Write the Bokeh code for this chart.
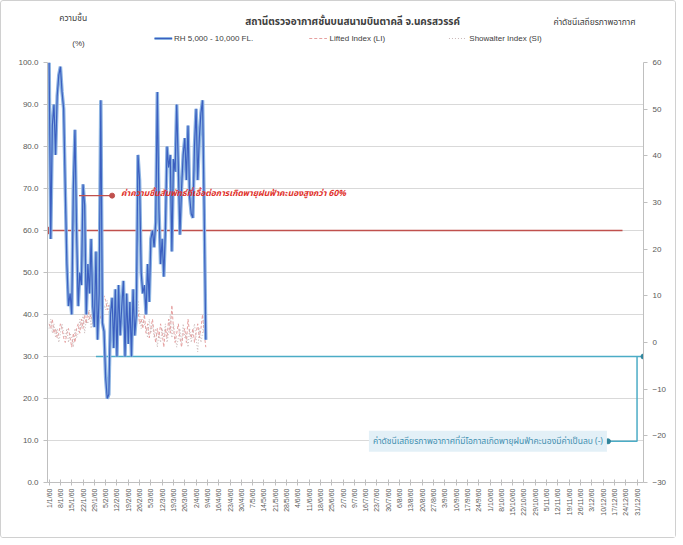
import math
from bokeh.plotting import figure
from bokeh.layouts import column
from bokeh.models import Range1d, LinearAxis, FixedTicker, Label, NumeralTickFormatter
from bokeh.embed import file_html
from bokeh.resources import INLINE

# ---- data ----
days = list(range(98))
rh = [100, 58, 85, 90, 78, 92, 97, 99, 93, 89,
      70, 52, 42, 45, 40, 70, 84, 60, 42, 50,
      47, 71, 66, 40, 52, 45, 58, 42, 37, 55,
      34, 45, 91, 38, 36, 25, 20, 21, 40, 44,
      32, 46, 30, 47, 35, 42, 48, 30, 45, 33,
      43, 30, 46, 35, 40, 78, 72, 50, 45, 47,
      40, 52, 43, 58, 60, 56, 62, 93, 65, 52,
      58, 49, 60, 80, 75, 78, 55, 77, 74, 90,
      75, 59, 70, 78, 82, 72, 85, 68, 64, 63,
      80, 89, 72, 82, 88, 91, 65, 34]
li = [4, 3, 5, 2, 3, 1, 2, 4, 3, 1,
      0, 2, 3, 1, -1, 2, 0, 3, 4, 2,
      5, 3, 6, 4, 7, 5, 6, 4, 8, 6,
      9, 7, 5, 8, 10, 9, 7, 8, 6, 9,
      7, 5, 6, 8, 4, 6, 7, 5, 3, 6,
      4, 7, 5, 8, 6, 7, 4, 5, 3, 6,
      2, 4, 1, 3, 5, 2, 0, 3, 1, 4,
      2, -1, 3, 1, 5, 2, 8, 3, 0, 2,
      4, 1, -1, 2, 3, 0, 5, 2, 1, 3,
      0, 2, 4, 1, 3, 6, 2, -1]
si = [3, 5, 2, 4, 1, 3, 0, 2, 4, 2,
      1, 3, 0, 2, 1, -1, 3, 1, 2, 5,
      3, 6, 2, 5, 4, 7, 3, 6, 5, 8,
      6, 9, 7, 6, 8, 7, 9, 6, 8, 7,
      5, 7, 4, 6, 5, 8, 4, 6, 5, 4,
      6, 3, 7, 4, 5, 9, 6, 3, 5, 4,
      3, 1, 5, 2, 4, 1, 3, -1, 2, 0,
      3, 1, 4, 0, 2, 6, 1, 4, 2, -1,
      1, 3, 0, 4, 1, 2, -1, 3, 0, 2,
      4, 1, -2, 3, 0, 2, 5, 1]

week_ticks = list(range(0, 365, 7))
week_labels = ["1/1/60", "8/1/60", "15/1/60", "22/1/60", "29/1/60",
               "5/2/60", "12/2/60", "19/2/60", "26/2/60",
               "5/3/60", "12/3/60", "19/3/60", "26/3/60",
               "2/4/60", "9/4/60", "16/4/60", "23/4/60", "30/4/60",
               "7/5/60", "14/5/60", "21/5/60", "28/5/60",
               "4/6/60", "11/6/60", "18/6/60", "25/6/60",
               "2/7/60", "9/7/60", "16/7/60", "23/7/60", "30/7/60",
               "6/8/60", "13/8/60", "20/8/60", "27/8/60",
               "3/9/60", "10/9/60", "17/9/60", "24/9/60",
               "1/10/60", "8/10/60", "15/10/60", "22/10/60", "29/10/60",
               "5/11/60", "12/11/60", "19/11/60", "26/11/60",
               "3/12/60", "10/12/60", "17/12/60", "24/12/60", "31/12/60"]

rh_threshold = 60
idx_threshold_left = 30

title_text = "สถานีตรวจอากาศชั้นบนสนามบินตาคลี จ.นครสวรรค์"
left_title = "ความชื้น"
left_unit = "(%)"
right_title = "ค่าดัชนีเสถียรภาพอากาศ"
red_note = "ค่าความชื้นสัมพัทธ์ที่เอื้อต่อการเกิดพายุฝนฟ้าคะนองสูงกว่า 60%"
cyan_note = "ค่าดัชนีเสถียรภาพอากาศที่มีโอกาสเกิดพายุฝนฟ้าคะนองมีค่าเป็นลบ (-)"
legend_labels = ["RH 5,000 - 10,000 FL.", "Lifted Index (LI)", "Showalter Index (SI)"]

FONT = "Liberation Sans"
THAI = "Noto Sans Thai"
BLUE_L = "#8DB4E2"
BLUE_D = "#3B5FC0"
LI_C = "#E6A0A0"
SI_C = "#C9B8B8"
RED = "#C0504D"
CY = "#4BACC6"

W = 674
HH = 54

# ---------- header ----------
h = figure(width=W, height=HH, x_range=Range1d(0, W), y_range=Range1d(HH, 0),
           min_border=0, output_backend="svg", toolbar_location=None)
h.axis.visible = False
h.grid.visible = False
h.outline_line_color = None

h.add_layout(Label(x=345, y=20, text=title_text, text_font=THAI, text_font_size="10px",
                   text_font_style="bold", text_color="#404040",
                   text_align="center", text_baseline="middle"))
h.add_layout(Label(x=29, y=17, text=left_title, text_font=THAI, text_font_size="8.5px",
                   text_color="#404040", text_align="center", text_baseline="middle"))
h.add_layout(Label(x=35, y=42, text=left_unit, text_font=FONT, text_font_size="8px",
                   text_color="#404040", text_align="center", text_baseline="middle"))
h.add_layout(Label(x=665, y=21, text=right_title, text_font=THAI, text_font_size="8.5px",
                   text_color="#404040", text_align="right", text_baseline="middle"))

ly = 37
h.line([121, 141], [ly, ly], line_color=BLUE_L, line_width=3)
h.line([121, 141], [ly, ly], line_color=BLUE_D, line_width=1.2)
h.add_layout(Label(x=143, y=ly, text=legend_labels[0], text_font=FONT, text_font_size="8px",
                   text_color="#404040", text_baseline="middle"))
h.line([296, 316], [ly, ly], line_color=LI_C, line_width=1, line_dash="3 2")
h.add_layout(Label(x=319, y=ly, text=legend_labels[1], text_font=FONT, text_font_size="8px",
                   text_color="#404040", text_baseline="middle"))
h.line([454, 474], [ly, ly], line_color=SI_C, line_width=1, line_dash="1 2")
h.add_layout(Label(x=477, y=ly, text=legend_labels[2], text_font=FONT, text_font_size="8px",
                   text_color="#404040", text_baseline="middle"))

# ---------- main chart ----------
p = figure(frame_width=596, frame_height=420,
           min_border_left=46, min_border_right=32, min_border_top=7, min_border_bottom=55,
           x_range=Range1d(-1, 368), y_range=Range1d(0, 100),
           output_backend="svg", toolbar_location=None)
p.extra_y_ranges = {"idx": Range1d(-30, 60)}
p.outline_line_color = None
p.xgrid.visible = False
p.ygrid.grid_line_color = "#D9D9D9"
p.ygrid.ticker = FixedTicker(ticks=list(range(0, 101, 10)))

ya = p.yaxis[0]
ya.ticker = FixedTicker(ticks=list(range(0, 101, 10)))
ya.formatter = NumeralTickFormatter(format="0.0")
ra = LinearAxis(y_range_name="idx", ticker=FixedTicker(ticks=list(range(-30, 61, 10))))
p.add_layout(ra, "right")
for ax in (ya, ra):
    ax.axis_line_color = "#BFBFBF"
    ax.major_tick_line_color = "#BFBFBF"
    ax.major_tick_in = 0
    ax.major_tick_out = 4
    ax.minor_tick_line_color = None
    ax.major_label_text_font = FONT
    ax.major_label_text_font_size = "8px"
    ax.major_label_text_color = "#595959"

xa = p.xaxis[0]
xa.ticker = FixedTicker(ticks=week_ticks)
xa.major_label_overrides = {t: l for t, l in zip(week_ticks, week_labels)}
xa.major_label_orientation = math.pi / 2
xa.axis_line_color = "#BFBFBF"
xa.major_tick_line_color = "#BFBFBF"
xa.major_tick_in = 3
xa.major_tick_out = 3
xa.minor_tick_line_color = None
xa.major_label_text_font = FONT
xa.major_label_text_font_size = "7px"
xa.major_label_text_color = "#595959"
xa.major_label_standoff = 3

# reference lines
p.line([-1, 355], [rh_threshold, rh_threshold], line_color=RED, line_width=1.5)
p.scatter([-1], [rh_threshold], size=7, color=RED)

p.line([29, 368], [idx_threshold_left, idx_threshold_left], line_color=CY, line_width=1.5)
p.line([364, 364, 346], [idx_threshold_left, 9.8, 9.8], line_color=CY, line_width=1.5)
p.scatter([368, 346], [idx_threshold_left, 9.8], size=5, color="#31859C")

# series
p.line(days, li, y_range_name="idx", line_color=LI_C, line_width=1, line_dash="3 2")
p.line(days, si, y_range_name="idx", line_color=SI_C, line_width=1, line_dash="1 2")
p.line(days, rh, line_color=BLUE_L, line_width=3.5)
p.line(days, rh, line_color=BLUE_D, line_width=1.2)

# red annotation
p.line([18.5, 39], [68.3, 68.3], line_color=RED, line_width=1.2)
p.scatter([39], [68.3], size=5, color=RED)
p.add_layout(Label(x=44.5, y=68.8, text=red_note, text_font=THAI, text_font_size="8.5px",
                   text_color="#E0302A", text_baseline="middle", text_font_style="bold italic"))

# cyan note
p.add_layout(Label(x=198, y=9.8, text=cyan_note, text_font=THAI, text_font_size="8.5px",
                   text_color="#3F8FB0", text_baseline="middle",
                   background_fill_color="#E3F0F7", padding=4))

layout = column(h, p, spacing=0, styles={"border": "1px solid #D0D0D0", "border-radius": "3px"})
open("out.html", "w").write(file_html(layout, INLINE))
